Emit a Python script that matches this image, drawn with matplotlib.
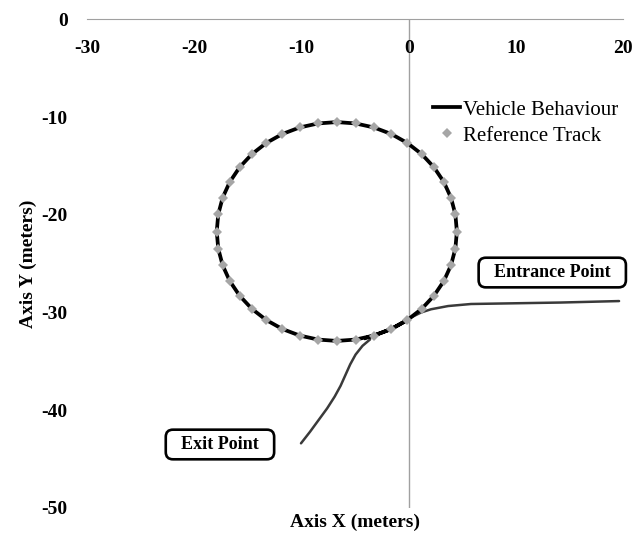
import matplotlib
matplotlib.use("Agg")
import matplotlib.pyplot as plt

plt.rcParams["axes.unicode_minus"] = False

# Reference track (gray diamonds)
ref_x = [4.5, 4.36, 3.95, 3.28, 2.36, 1.22, -0.12, -1.62, -3.24, -4.95, -6.7,
         -8.45, -10.16, -11.78, -13.28, -14.62, -15.76, -16.68, -17.35, -17.76, -17.9,
         -17.76, -17.35, -16.68, -15.76, -14.62, -13.28, -11.78, -10.16, -8.45, -6.7,
         -4.95, -3.24, -1.62, -0.12, 1.22, 2.36, 3.28, 3.95, 4.36]
ref_y = [-21.7, -19.95, -18.24, -16.62, -15.12, -13.78, -12.64, -11.72, -11.05, -10.64, -10.5,
         -10.64, -11.05, -11.72, -12.64, -13.78, -15.12, -16.62, -18.24, -19.95, -21.7,
         -23.45, -25.16, -26.78, -28.28, -29.62, -30.76, -31.68, -32.35, -32.76, -32.9,
         -32.76, -32.35, -31.68, -30.76, -29.62, -28.28, -26.78, -25.16, -23.45]

# Vehicle behaviour: entrance, loop, exit
entry_x = [19.63, 14.2, 8.62, 5.82, 3.68, 2.09, 1.16, 0.5, -0.06]
entry_y = [-28.82, -28.97, -29.07, -29.12, -29.33, -29.66, -29.99, -30.35, -30.7]

loop_x = [-0.12, -1.62, -3.24, -4.95, -6.7, -8.45, -10.16, -11.78, -13.28, -14.62, -15.76,
          -16.68, -17.35, -17.76, -17.9, -17.76, -17.35, -16.68, -15.76, -14.62, -13.28,
          -11.78, -10.16, -8.45, -6.7, -4.95, -3.24, -1.62, -0.12, 1.22, 2.36, 3.28, 3.95,
          4.36, 4.5, 4.36, 3.95, 3.28, 2.36, 1.22, -0.12, -1.62, -3.24, -4.0]
loop_y = [-30.76, -31.68, -32.35, -32.76, -32.9, -32.76, -32.35, -31.68, -30.76, -29.62, -28.28,
          -26.78, -25.16, -23.45, -21.7, -19.95, -18.24, -16.62, -15.12, -13.78, -12.64,
          -11.72, -11.05, -10.64, -10.5, -10.64, -11.05, -11.72, -12.64, -13.78, -15.12, -16.62, -18.24,
          -19.95, -21.7, -23.45, -25.16, -26.78, -28.28, -29.62, -30.76, -31.68, -32.35, -32.6]

exit_x = [-3.6, -4.3, -4.95, -5.45, -5.9, -6.35, -6.9, -7.6, -8.4, -9.2, -10.04]
exit_y = [-32.75, -33.4, -34.3, -35.3, -36.4, -37.5, -38.6, -39.8, -41.0, -42.2, -43.38]

xticks = [-30, -20, -10, 0, 10, 20]
yticks = [0, -10, -20, -30, -40, -50]

serif = ["Liberation Serif", "DejaVu Serif"]

fig = plt.figure(figsize=(6.32, 5.34), dpi=100)
ax = fig.add_axes([0.1377, 0.0487, 0.8481, 0.9148])

ax.plot(entry_x, entry_y, color="#3a3a3a", lw=1.8, zorder=2, solid_capstyle="round")
ax.plot(exit_x, exit_y, color="#3a3a3a", lw=1.8, zorder=2, solid_capstyle="round")
ax.plot(loop_x, loop_y, color="black", lw=2.7, zorder=3, label="Vehicle Behaviour")
ax.plot(ref_x, ref_y, linestyle="none", marker="D", markersize=5,
        color="#a6a6a6", markeredgewidth=0, zorder=4, label="Reference Track")

ax.set_xlim(-30, 20)
ax.set_ylim(-50, 0)
ax.set_xticks(xticks)
ax.set_yticks(yticks)

for s in ["top", "right", "left"]:
    ax.spines[s].set_visible(False)
ax.spines["bottom"].set_position(("data", 0))
ax.spines["bottom"].set_color("#a0a0a0")
ax.axvline(0, color="#a0a0a0", lw=1, zorder=1)

ax.tick_params(axis="both", length=0)
ax.tick_params(axis="x", pad=14.5)
ax.tick_params(axis="y", pad=14)
for lab in ax.get_xticklabels() + ax.get_yticklabels():
    lab.set_fontfamily(serif)
    lab.set_fontweight("bold")
    lab.set_fontsize(14)

ax.set_xlabel("Axis X (meters)", fontfamily=serif, fontweight="bold", fontsize=14)
ax.xaxis.set_label_coords(0.5, -0.012)
ax.set_ylabel("Axis Y (meters)", fontfamily=serif, fontweight="bold", fontsize=14, labelpad=3)

leg = ax.legend(loc="upper left", bbox_to_anchor=(0.6455, 0.835), frameon=False,
                prop={"family": serif, "size": 15}, handlelength=1.3,
                handletextpad=0.15, labelspacing=0.3, borderaxespad=0, borderpad=0)

box = dict(boxstyle="round,pad=0.35,rounding_size=0.4", fc="white", ec="black", lw=1.9)
ax.text(13.4, -25.9, "  Entrance Point  ", ha="center", va="center", fontfamily=serif,
        fontweight="bold", fontsize=13, bbox=box)
ax.text(-17.6, -43.5, "  Exit Point  ", ha="center", va="center", fontfamily=serif,
        fontweight="bold", fontsize=13, bbox=box)

fig.savefig("out.png", dpi=100)
